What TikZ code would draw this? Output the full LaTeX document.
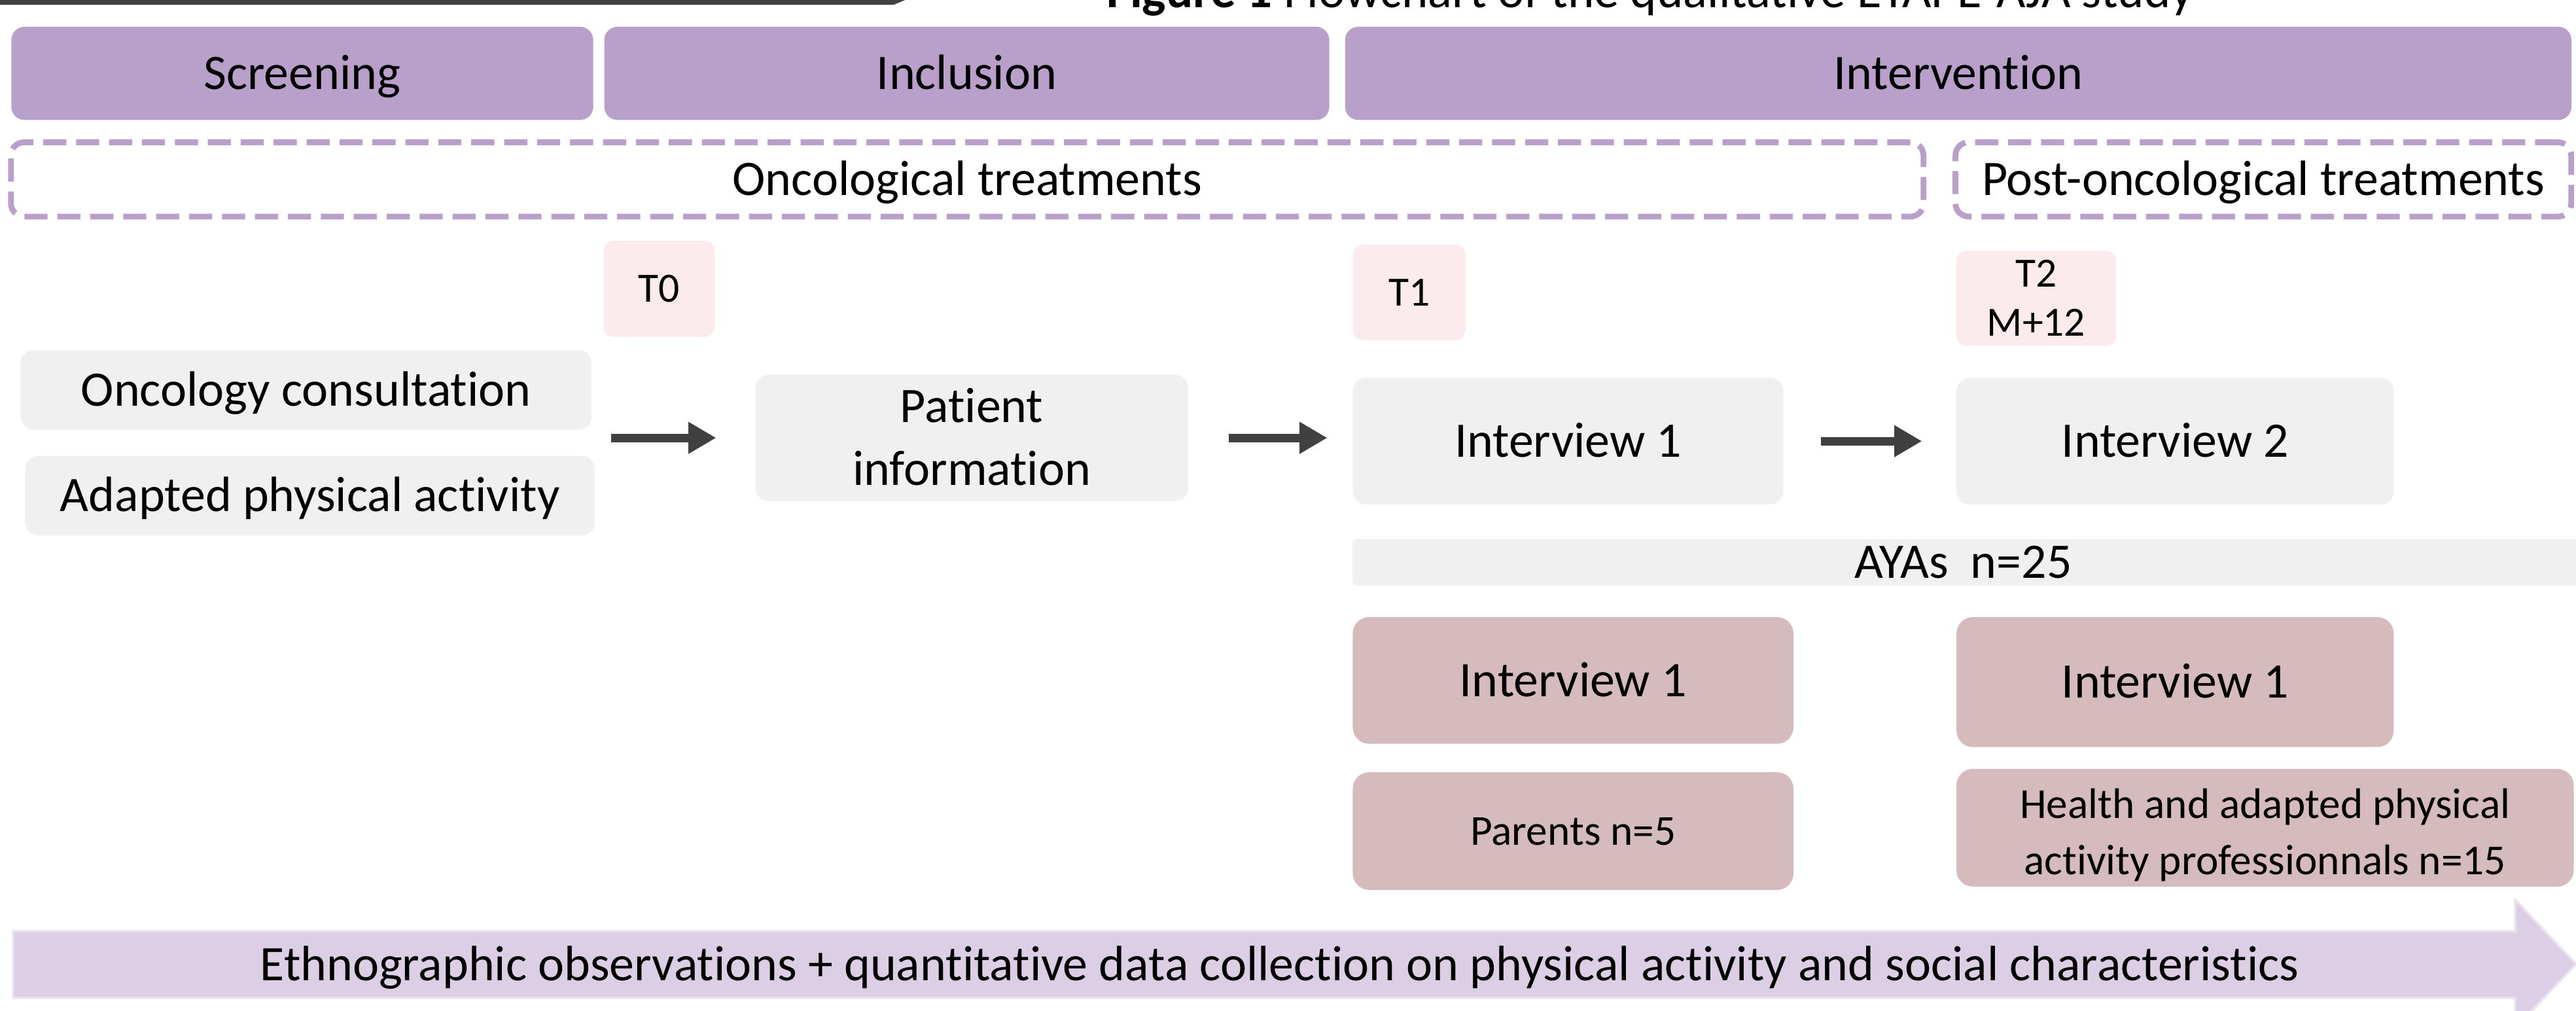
\documentclass[tikz,border=0pt]{standalone}
\usepackage{fontspec}
\setmainfont{Carlito}[Ligatures=NoCommon]
\usetikzlibrary{arrows.meta}
\definecolor{hdr}{HTML}{B9A0CB}
\definecolor{tbox}{HTML}{FCEBED}
\definecolor{gbox}{HTML}{F0F0F0}
\definecolor{mbox}{HTML}{D5BBBE}
\definecolor{barfill}{HTML}{DCCEE4}
\definecolor{barline}{HTML}{EAE2EF}
\definecolor{darr}{HTML}{404040}
\definecolor{topbar}{HTML}{414042}
\newcommand\twolines[2]{\vtop{\halign{\hfil##\hfil\cr#1\cr#2\cr}}}
\begin{document}
\begin{tikzpicture}[x=0.01cm,y=-0.01cm,
  base/.style={inner sep=0pt, outer sep=0pt, text depth=0pt, text height=5.54pt,
    font=\fontsize{8.6pt}{10.8pt}\selectfont},
  header/.style={base, fill=hdr, rounded corners=0.08cm, minimum height=0.567cm},
  phase/.style={base, draw=hdr, line width=1pt, dash pattern=on 4pt off 1.7pt,
    rounded corners=0.08cm, minimum height=0.452cm},
  tpoint/.style={base, fill=tbox, rounded corners=0.06cm,
    font=\fontsize{7.2pt}{8.5pt}\selectfont, text height=4.64pt},
  graybox/.style={base, fill=gbox, rounded corners=0.08cm},
  mauvebox/.style={base, fill=mbox, rounded corners=0.1cm},
  darrow/.style={draw=darr, line width=1.5pt, -{Triangle[length=4.8pt,width=5.2pt]}},
  plain/.style={base, fill=none}
]
\useasboundingbox (0,0) rectangle (1568,615);
\clip (0,0) rectangle (1568,615);

% top bar and clipped title
\fill[topbar] (0,-5) -- (563,-5) -- (544,2.9) -- (0,2.9) -- cycle;
\node[anchor=base, inner sep=0pt, font=\fontsize{8.7pt}{10pt}\selectfont] (title) at (1004.5,4.6)
  {\textbf{Figure 1} Flowchart of the qualitative ETAPE-AJA study};

% headers
\node[header, minimum width=3.54cm] (scr) at (184,44.65) {Screening};
\node[header, minimum width=4.41cm] (inc) at (588.5,44.65) {Inclusion};
\node[header, minimum width=7.46cm] (intv) at (1192,44.65) {Intervention};

% phases
\node[phase, minimum width=11.635cm] (onc) at (588.75,109.2) {Oncological treatments};
\node[phase, minimum width=3.746cm] (post) at (1377.7,109.2) {Post-oncological treatments};

% time points
\node[tpoint, minimum width=0.675cm, minimum height=0.584cm] (t0) at (401.25,175.8) {T0};
\node[tpoint, minimum width=0.685cm, minimum height=0.58cm] (t1) at (857.75,178) {T1};
\node[tpoint, minimum width=0.972cm, minimum height=0.578cm, text depth=8.5pt] (t2) at (1239.4,181.5) {\twolines{T2}{M+12}};

% gray boxes
\node[graybox, minimum width=3.474cm, minimum height=0.486cm] (oc) at (186.3,237.3) {Oncology consultation};
\node[graybox, minimum width=3.466cm, minimum height=0.484cm] (apa) at (188.7,301.7) {Adapted physical activity};
\node[graybox, minimum width=2.63cm, minimum height=0.77cm, text depth=10.8pt] (pi) at (591.5,266.5) {\twolines{Patient}{information}};
\node[graybox, minimum width=2.62cm, minimum height=0.77cm] (i1) at (954.5,268.5) {Interview 1};
\node[graybox, minimum width=2.66cm, minimum height=0.77cm] (i2) at (1324,268.5) {Interview 2};
\node[graybox, rounded corners=0.03cm, minimum width=7.565cm, minimum height=0.285cm] (ayabar) at (1201.75,342.25) {};
\node[plain] (aya) at (1195,342.25) {AYAs\ \ n=25};

% mauve boxes
\node[mauvebox, minimum width=2.681cm, minimum height=0.771cm] (m1) at (957.55,414.15) {Interview 1};
\node[mauvebox, minimum width=2.66cm, minimum height=0.791cm] (m2) at (1324,415.15) {Interview 1};
\node[mauvebox, minimum width=2.681cm, minimum height=0.716cm,
  font=\fontsize{7.4pt}{9.7pt}\selectfont, text height=4.77pt] (par) at (957.55,505.8) {Parents n=5};
\node[mauvebox, minimum width=3.755cm, minimum height=0.716cm,
  font=\fontsize{7.4pt}{9.7pt}\selectfont, text height=6.4pt, text depth=9.7pt] (hap) at (1378.75,503.8)
  {\twolines{Health and adapted physical}{activity professionnals n=15}};

% arrows
\draw[darrow, shorten <=0.12cm, shorten >=0.24cm] (oc.east |- pi.west) -- (pi.west);
\draw[darrow, shorten <=0.25cm, shorten >=0.155cm] (pi.east) -- (pi.east -| i1.west);
\draw[darrow, shorten <=0.23cm, shorten >=0.21cm] (i1.east) -- (i2.west);

% bottom big arrow
\filldraw[fill=barfill, draw=barline, line width=0.4pt]
  (8,566.8) -- (1531,566.8) -- (1531,547.6) -- (1568,586.7) -- (1531,625.8) -- (1531,607.3) -- (8,607.3) -- cycle;
\node[plain] (eth) at (779,587) {Ethnographic observations + quantitative data collection on physical activity and social characteristics};
\end{tikzpicture}
\end{document}
